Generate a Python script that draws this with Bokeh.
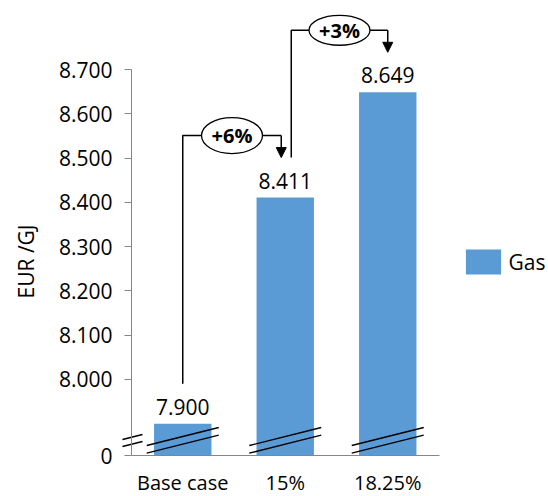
import math
from bokeh.plotting import figure
from bokeh.models import (ColumnDataSource, FixedTicker, Legend, LegendItem,
                          Label, Arrow, NormalHead)
from bokeh.embed import file_html
from bokeh.resources import INLINE
from bokeh.core.properties import value

# ---- data ----
categories = ["Base case", "15%", "18.25%"]
gas = [7.900, 8.411, 8.649]
series_name = "Gas"
y_ticks = [8.0, 8.1, 8.2, 8.3, 8.4, 8.5, 8.6, 8.7]
y_tick_labels = ["8.000", "8.100", "8.200", "8.300", "8.400", "8.500", "8.600", "8.700"]
zero_label = "0"
axis_title = "EUR /GJ"

# ---- layout constants ----
FONT = "Open Sans"
FS = "21px"
FS_CAT = "20px"
BAR_COLOR = "#5B9BD5"
AXIS_COLOR = "#868686"
W, H = 548, 496
AX_X, AX_Y = 131, 455     # pixel position of the axes corner
BREAK = 7.828             # value drawn where the broken axis shows 0
YPX = 442.4               # pixels per unit on y
XPX = 102.5               # pixels per category


def dx(px):
    return px / XPX


def dy(px):
    return px / YPX


x_range = (-dx(AX_X), dx(W - AX_X))
y_range = (BREAK - dy(H - AX_Y), BREAK + dy(AX_Y))

xs = [i + 0.5 for i in range(len(categories))]
src = ColumnDataSource(dict(x=xs, top=gas, label=[f"{v:.3f}" for v in gas]))

p = figure(width=W, height=H, x_range=x_range, y_range=y_range,
           output_backend="svg", toolbar_location=None,
           min_border_left=0, min_border_right=0,
           min_border_top=0, min_border_bottom=0)
p.outline_line_color = None
p.grid.visible = False
p.background_fill_color = "white"
p.border_fill_color = "white"

bars = p.vbar(x="x", top="top", bottom=BREAK, width=0.56, source=src,
              fill_color=BAR_COLOR, line_color=None)

p.text(x="x", y="top", text="label", source=src, text_align="center",
       text_baseline="alphabetic", y_offset=-17, text_font=value(FONT),
       text_font_size=FS, text_color="black")

# axes (fixed inside the frame)
p.yaxis.fixed_location = 0
p.yaxis.ticker = FixedTicker(ticks=[BREAK] + y_ticks)
ov = {BREAK: zero_label}
ov.update(dict(zip(y_ticks, y_tick_labels)))
p.yaxis.major_label_overrides = ov
p.yaxis.bounds = (BREAK, y_ticks[-1])
p.yaxis.minor_tick_line_color = None
p.yaxis.major_tick_out = 7
p.yaxis.major_tick_in = 0
p.yaxis.major_tick_line_color = AXIS_COLOR
p.yaxis.axis_line_color = AXIS_COLOR
p.yaxis.major_label_standoff = 12
p.yaxis.major_label_text_font = FONT
p.yaxis.major_label_text_font_size = FS
p.yaxis.major_label_text_color = "black"

p.xaxis.fixed_location = BREAK
p.xaxis.ticker = FixedTicker(ticks=xs)
p.xaxis.major_label_overrides = dict(zip(xs, categories))
p.xaxis.bounds = (0, len(categories))
p.xaxis.minor_tick_line_color = None
p.xaxis.major_tick_line_color = None
p.xaxis.major_tick_out = 0
p.xaxis.major_tick_in = 0
p.xaxis.axis_line_color = AXIS_COLOR
p.xaxis.major_label_standoff = 13
p.xaxis.major_label_text_font = FONT
p.xaxis.major_label_text_font_size = FS_CAT
p.xaxis.major_label_text_color = "black"

# y axis title
p.add_layout(Label(x=dx(25 - AX_X), y=BREAK + dy(AX_Y - 261), text=axis_title,
                   angle=math.pi / 2, text_align="center", text_baseline="middle",
                   text_font=FONT, text_font_size=FS, text_color="black"))

# axis break marks
for lo in (16, 9):
    p.segment(x0=[dx(-9)], y0=[BREAK + dy(lo)], x1=[dx(11)], y1=[BREAK + dy(lo + 5)],
              line_color="black", line_width=1.3)
# bar break marks
for xc in xs:
    for lo in (10, 2.3):
        p.segment(x0=[xc - dx(36)], y0=[BREAK + dy(lo)],
                  x1=[xc + dx(36)], y1=[BREAK + dy(lo + 18)],
                  line_color="black", line_width=1.3)

# change connectors
conn = [
    (xs[0], gas[0], xs[1] - dx(4), gas[1], 36),
    (xs[1] + dx(6), gas[1], xs[2], gas[2], 30),
]
for i, (x0, v0, x1, v1, eh) in enumerate(conn):
    level = v1 + dy(62)
    p.line([x0, x0, x1], [v0 + dy(40), level, level], line_color="black", line_width=1.5)
    p.add_layout(Arrow(end=NormalHead(size=10, fill_color="black", line_color="black"),
                       x_start=x1, y_start=level, x_end=x1, y_end=v1 + dy(40),
                       line_color="black", line_width=1.5))
    cx = (x0 + x1) / 2
    p.ellipse(x=[cx], y=[level], width=dx(61), height=dy(eh),
              fill_color="white", line_color="black", line_width=1.3)
    pct = round((gas[i + 1] / gas[i] - 1) * 100)
    p.text(x=[cx], y=[level], text=[f"+{pct}%"], text_align="center",
           text_baseline="middle", text_font=value(FONT), text_font_size=FS_CAT,
           text_font_style="bold", text_color="black")

legend = Legend(items=[LegendItem(label=series_name, renderers=[bars])],
                location=(460.6, H - 277), orientation="vertical",
                glyph_width=44, glyph_height=31, label_standoff=4,
                padding=0, margin=0, border_line_color=None,
                background_fill_alpha=0, label_text_font=FONT,
                label_text_font_size=FS, label_text_color="black")
p.add_layout(legend, "center")

open("out.html", "w").write(file_html(p, INLINE))
